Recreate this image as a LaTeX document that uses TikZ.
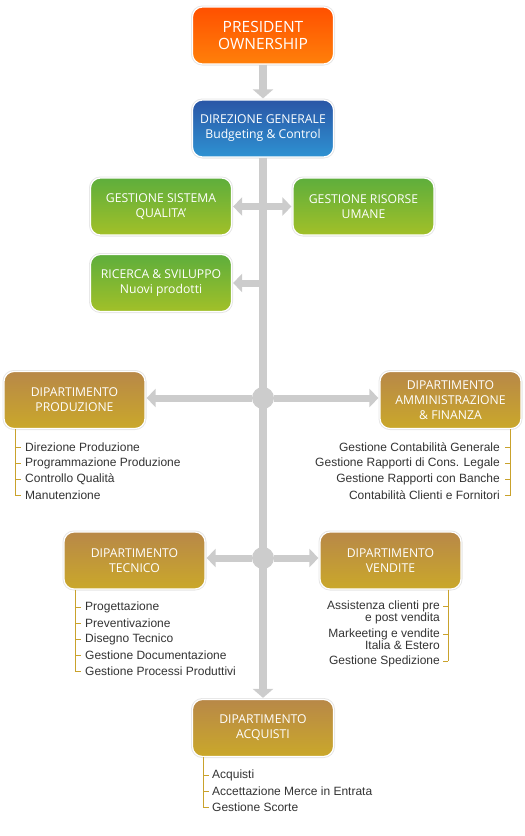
\documentclass[tikz,border=0pt]{standalone}
\usepackage{fontspec}
\setmainfont{Liberation Sans}
\newfontfamily\boxfont{Open Sans}
\usetikzlibrary{arrows.meta, positioning, calc}
\definecolor{presorange}{RGB}{255,80,0}
\definecolor{presorangeb}{RGB}{255,128,10}
\definecolor{dirblue}{RGB}{42,86,166}
\definecolor{dirblueb}{RGB}{46,146,210}
\definecolor{staffgreen}{RGB}{94,174,60}
\definecolor{staffgreenb}{RGB}{162,192,40}
\definecolor{deptgold}{RGB}{184,136,72}
\definecolor{deptgoldb}{RGB}{202,168,42}
\definecolor{linegray}{RGB}{204,204,204}
\definecolor{itemgray}{RGB}{51,51,51}
\definecolor{bracketgold}{RGB}{201,162,44}
\tikzset{
  orgbox/.style={rectangle, rounded corners=10pt, draw=white, line width=1.2pt,
    preaction={draw=black!10, line width=3pt},
    minimum width=141pt, minimum height=57pt, align=center, text=white,
    inner sep=2pt, font=\boxfont\fontsize{12.2}{15}\selectfont},
  presbox/.style={orgbox, top color=presorange, bottom color=presorangeb,
    font=\boxfont\fontsize{15.5}{16.5}\selectfont},
  dirbox/.style={orgbox, top color=dirblue, bottom color=dirblueb},
  staffbox/.style={orgbox, top color=staffgreen, bottom color=staffgreenb},
  deptbox/.style={orgbox, top color=deptgold, bottom color=deptgoldb},
  spine/.style={draw=linegray, line width=8pt, -{Triangle[length=9pt, width=20pt]}, shorten >=1pt},
  branch/.style={draw=linegray, line width=7pt, -{Triangle[length=9pt, width=18pt]}, shorten >=1pt},
  twoway/.style={draw=linegray, line width=7pt, {Triangle[length=9pt, width=18pt]}-{Triangle[length=9pt, width=18pt]}, shorten >=1pt, shorten <=1pt},
  hub/.style={circle, fill=linegray, minimum size=22pt, inner sep=0pt},
  item/.style={text=itemgray, inner sep=1pt, font=\fontsize{12}{11}\selectfont},
  bracket/.style={draw=bracketgold, line width=0.8pt}
}

\begin{document}
\begin{tikzpicture}[x=1pt, y=-1pt]
  \useasboundingbox (0,0) rectangle (525,836);
  % top of the chart
  \node[presbox] (pres) at (263,35.5) {PRESIDENT\\OWNERSHIP};
  \node[dirbox] (dg) at (263,128.5) {DIREZIONE GENERALE\\Budgeting \& Control};
  % staff units
  \node[staffbox] (gsq) at (161,206.5) {GESTIONE SISTEMA\\QUALITA’};
  \node[staffbox] (gru) at (363.5,206.5) {GESTIONE RISORSE\\UMANE};
  \node[staffbox] (rs) at (161,283) {RICERCA \& SVILUPPO\\Nuovi prodotti};
  % departments
  \node[deptbox] (prod) at (74.5,400) {DIPARTIMENTO\\PRODUZIONE};
  \node[deptbox] (amf) at (450.5,400) {DIPARTIMENTO\\AMMINISTRAZIONE\\\& FINANZA};
  \node[deptbox] (tec) at (134.5,560.5) {DIPARTIMENTO\\TECNICO};
  \node[deptbox] (ven) at (390.5,560.5) {DIPARTIMENTO\\VENDITE};
  \node[deptbox] (acq) at (263,728) {DIPARTIMENTO\\ACQUISTI};
  % connectors
  \draw[spine] (pres) -- (dg);
  \draw[spine] (dg) -- (acq);
  \draw[twoway] (gsq) -- (gru);
  \coordinate (rsjoin) at (dg.south |- rs.east);
  \draw[branch] (rsjoin) -- (rs);
  \node[hub] (hub1) at (dg.south |- 0,398) {};
  \node[hub] (hub2) at (dg.south |- 0,558) {};
  \draw[branch] (hub1) -- (prod.east |- hub1);
  \draw[branch] (hub1) -- (amf.west |- hub1);
  \draw[branch] (hub2) -- (tec.east |- hub2);
  \draw[branch] (hub2) -- (ven.west |- hub2);
  % Produzione tasks
  \foreach \t [count=\i] in {Direzione Produzione, Programmazione Produzione,
      Controllo Qualità, Manutenzione} {
    \node[item, anchor=west] (prod-\i) at (24,431+16*\i) {\t};
    \draw[bracket] (prod-\i.west) ++(-8,0) -- ++(5,0);
  }
  \draw[bracket] ([xshift=12pt]prod.south west) |- ([xshift=-3pt]prod-4.west);
  % Amministrazione tasks
  \foreach \t [count=\i] in {Gestione Contabilità Generale, Gestione Rapporti di Cons. Legale,
      Gestione Rapporti con Banche, Contabilità Clienti e Fornitori} {
    \node[item, anchor=east] (amf-\i) at (501,431+16*\i) {\t};
    \draw[bracket] (amf-\i.east) ++(9,0) -- ++(-5,0);
  }
  \draw[bracket] ([xshift=-11pt]amf.south east) |- ([xshift=4pt]amf-4.east);
  % Tecnico tasks
  \foreach \t [count=\i] in {Progettazione, Preventivazione, Disegno Tecnico,
      Gestione Documentazione, Gestione Processi Produttivi} {
    \node[item, anchor=west] (tec-\i) at (84,591+16*\i) {\t};
    \draw[bracket] (tec-\i.west) ++(-8,0) -- ++(5,0);
  }
  \draw[bracket] ([xshift=12pt]tec.south west) |- ([xshift=-3pt]tec-5.west);
  % Vendite tasks
  \foreach \t/\y [count=\i] in {Assistenza clienti pre\\e post vendita/606,
      Markeeting e vendite\\Italia \& Estero/634, Gestione Spedizione/661} {
    \node[item, anchor=north east, align=right] (ven-\i) at (441,\y-6.5) {\t};
    \coordinate (vtick-\i) at (448,\y);
    \draw[bracket] (vtick-\i) -- ++(-5,0);
  }
  \draw[bracket] (ven.south -| vtick-1) -- (vtick-3);
  % Acquisti tasks
  \foreach \t [count=\i] in {Acquisti, Accettazione Merce in Entrata, Gestione Scorte} {
    \node[item, anchor=west] (acq-\i) at (211,759+16*\i) {\t};
    \draw[bracket] (acq-\i.west) ++(-7,0) -- ++(5,0);
  }
  \draw[bracket] ([xshift=11pt]acq.south west) |- ([xshift=-2pt]acq-3.west);
\end{tikzpicture}
\end{document}
